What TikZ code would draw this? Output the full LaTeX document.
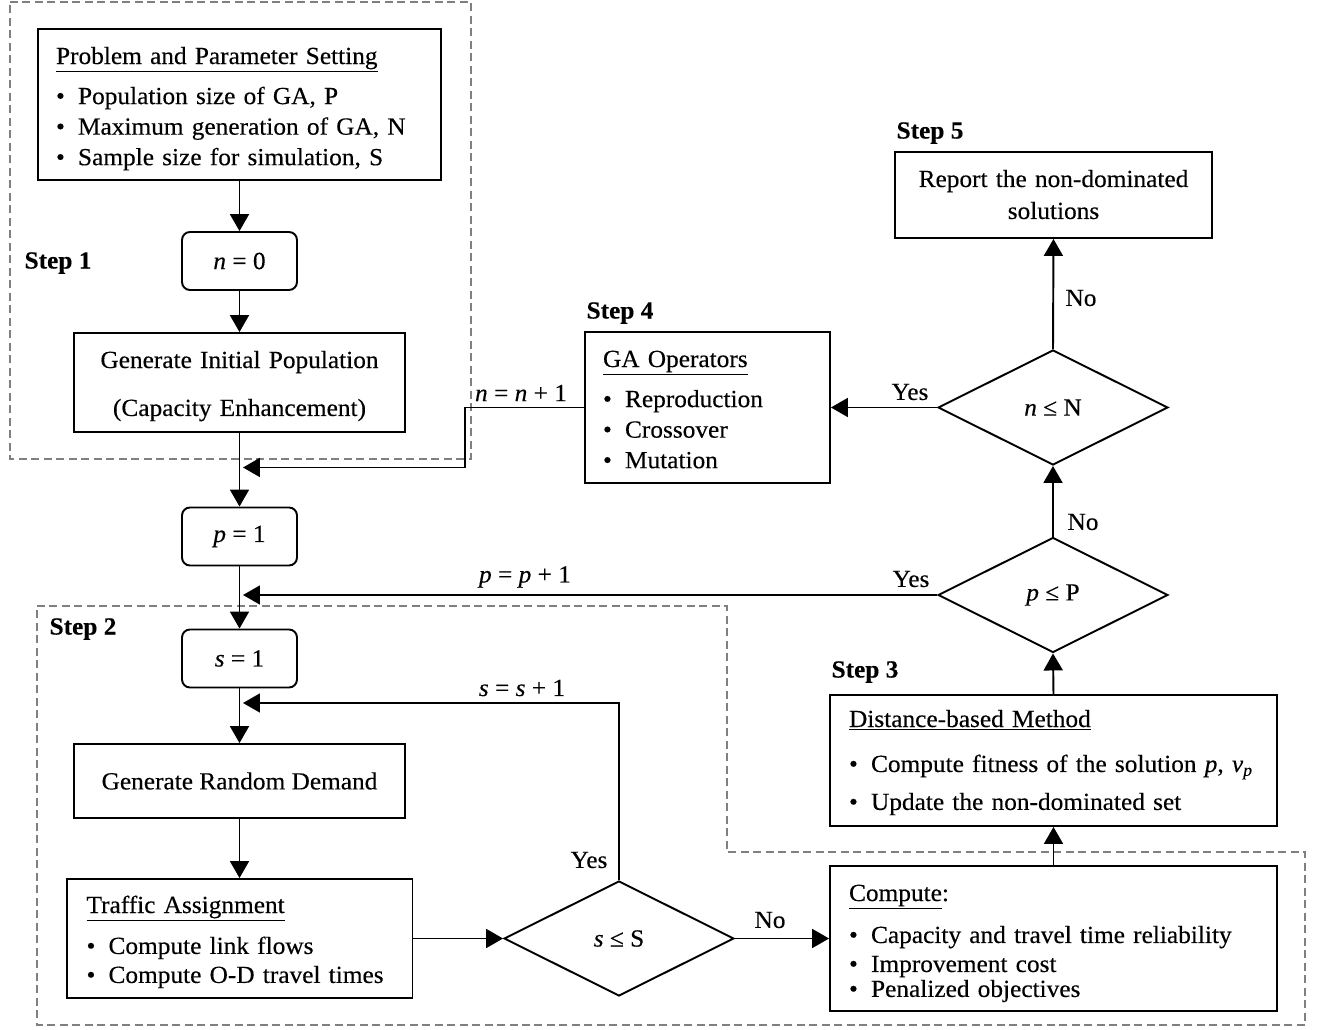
\documentclass[tikz,border=0pt]{standalone}
\usepackage{fontspec}
\setmainfont{Liberation Serif}[FakeStretch=1.03,FakeBold=0.3]
\usetikzlibrary{shapes.geometric,arrows.meta}
\newcommand{\bl}[1]{\mbox{\makebox[0.44cm][l]{\textbullet}#1}}
\begin{document}
\begin{tikzpicture}[x=0.02cm,y=-0.02cm,
  font=\fontsize{14}{17.4}\selectfont,
  box/.style={draw,line width=1.1pt,inner sep=0pt,align=center,text height=0pt},
  lbox/.style={draw,line width=1.1pt,inner ysep=0pt,align=left,text height=0pt},
  rbox/.style={draw,line width=1.1pt,rounded corners=0.16cm,minimum width=2.3cm,minimum height=1.16cm,inner sep=0pt},
  dia/.style={draw,line width=1.1pt,diamond,aspect=2,minimum width=4.6cm,minimum height=2.3cm,inner sep=0pt},
  arr/.style={line width=1.1pt,-{Triangle[length=0.34cm,width=0.38cm]}},
  dsh/.style={draw=black!50,line width=0.85pt,dash pattern=on 0.16cm off 0.09cm},
  steplbl/.style={font=\fontsize{14}{17}\selectfont\bfseries},
  lbl/.style={inner sep=0pt}
]
\useasboundingbox (0,0) rectangle (1320,1030);

% dashed regions
\draw[dsh] (10,2) -- (471,2) -- (471,459) -- (10,459) -- cycle;
\draw[dsh] (37,606) -- (727,606) -- (727,852) -- (1305,852) -- (1305,1025) -- (37,1025) -- cycle;

% nodes
\node[lbox,text width=7.34cm,inner xsep=0.36cm,minimum height=3.02cm,text depth=1.62cm] (prob) at (239.5,104.5)
  {\underline{Problem and Parameter Setting}\\[5.4pt]\bl{Population size of GA, P}\\\bl{Maximum generation of GA, N}\\\bl{Sample size for simulation, S}};
\node[rbox] (n0) at (239.5,261) {\textit{n} = 0};
\node[box,text width=6.62cm,minimum height=1.98cm,text depth=0.58cm] (gip) at (239.5,382.5)
  {Generate Initial Population\\[9.9pt](Capacity Enhancement)};
\node[rbox] (p1) at (239.5,536.5) {\textit{p} = 1};
\node[rbox] (s1) at (239.5,658.5) {\textit{s} = 1};
\node[draw,line width=1.1pt,inner sep=0pt,minimum width=6.62cm,minimum height=1.48cm] (grd) at (239.5,781) {Generate Random Demand};
\node[lbox,text width=6.12cm,inner xsep=0.4cm,minimum height=2.38cm,text depth=1.02cm] (ta) at (239.5,938.5)
  {\underline{Traffic Assignment}\\[5.9pt]\bl{Compute link flows}\\[-0.9pt]\bl{Compute O-D travel times}};
\node[dia] (sS) at (619,938.5) {\textit{s} ≤ S};
\node[lbox,text width=8.18cm,inner xsep=0.38cm,minimum height=2.9cm,text depth=1.5cm] (comp) at (1053.5,938.5)
  {\underline{Compute}:\\[6.5pt]\bl{Capacity and travel time reliability}\\[-0.9pt]\bl{Improvement cost}\\[-3.2pt]\bl{Penalized objectives}};
\node[lbox,text width=8.18cm,inner xsep=0.38cm,minimum height=2.62cm,text depth=1.34cm] (dist) at (1053.5,760.5)
  {\underline{Distance-based Method}\\[8.2pt]\bl{Compute fitness of the solution \textit{p}, \textit{v}\textsubscript{\textit{p}}}\\[4.2pt]\bl{Update the non-dominated set}};
\node[dia] (pP) at (1053,595) {\textit{p} ≤ P};
\node[dia] (nN) at (1053,407.5) {\textit{n} ≤ N};
\node[lbox,text width=4.18cm,inner xsep=0.36cm,minimum height=3.02cm,text depth=1.62cm] (gaop) at (707.5,407.5)
  {\underline{GA Operators}\\[5.4pt]\bl{Reproduction}\\\bl{Crossover}\\\bl{Mutation}};
\node[box,text width=6.34cm,minimum height=1.72cm,text depth=0.32cm] (rep) at (1053.5,195)
  {Report the non-dominated\\[0.8pt]solutions};

% step labels
\node[steplbl] (st1) at (58,263) {Step 1};
\node[steplbl] (st2) at (83,629) {Step 2};
\node[steplbl] (st3) at (865,672) {Step 3};
\node[steplbl] (st4) at (620,313) {Step 4};
\node[steplbl] (st5) at (930,133) {Step 5};

% junction coordinates
\coordinate (jn) at (243,467.5);
\coordinate (jnb) at (465,467.5);
\coordinate (jnt) at (465,407.5);
\coordinate (jp) at (243,595);
\coordinate (js) at (243,703);
\coordinate (jst) at (619,703);

% connectors
\draw[arr] (prob.south) -- (n0.north);
\draw[arr] (n0.south) -- (gip.north);
\draw[arr] (gip.south) -- (p1.north);
\draw[arr] (p1.south) -- (s1.north);
\draw[arr] (s1.south) -- (grd.north);
\draw[arr] (grd.south) -- (ta.north);
\draw[arr] (ta.east) -- (sS.west);
\draw[arr] (sS.east) -- (comp.west);
\draw[arr] (comp.north) -- (dist.south);
\draw[arr] (dist.north) -- (pP.south);
\draw[arr] (pP.north) -- (nN.south);
\draw[arr] (nN.north) -- (rep.south);
\draw[arr] (nN.west) -- (gaop.east);
\draw[arr] (gaop.west) -- (jnt) -- (jnb) -- (jn);
\draw[arr] (pP.west) -- (jp);
\draw[arr] (sS.north) -- (jst) -- (js);

% connector labels
\node[lbl] (lnn) at (521,393) {\textit{n} = \textit{n} + 1};
\node[lbl] (lpp) at (525,577) {\textit{p} = \textit{p} + 1};
\node[lbl] (lss) at (522,688) {\textit{s} = \textit{s} + 1};
\node[lbl] (y1) at (910,392) {Yes};
\node[lbl] (y2) at (911,579) {Yes};
\node[lbl] (y3) at (589,860) {Yes};
\node[lbl] (no1) at (1081,298) {No};
\node[lbl] (no2) at (1083,522) {No};
\node[lbl] (no3) at (770,920) {No};
\end{tikzpicture}
\end{document}
